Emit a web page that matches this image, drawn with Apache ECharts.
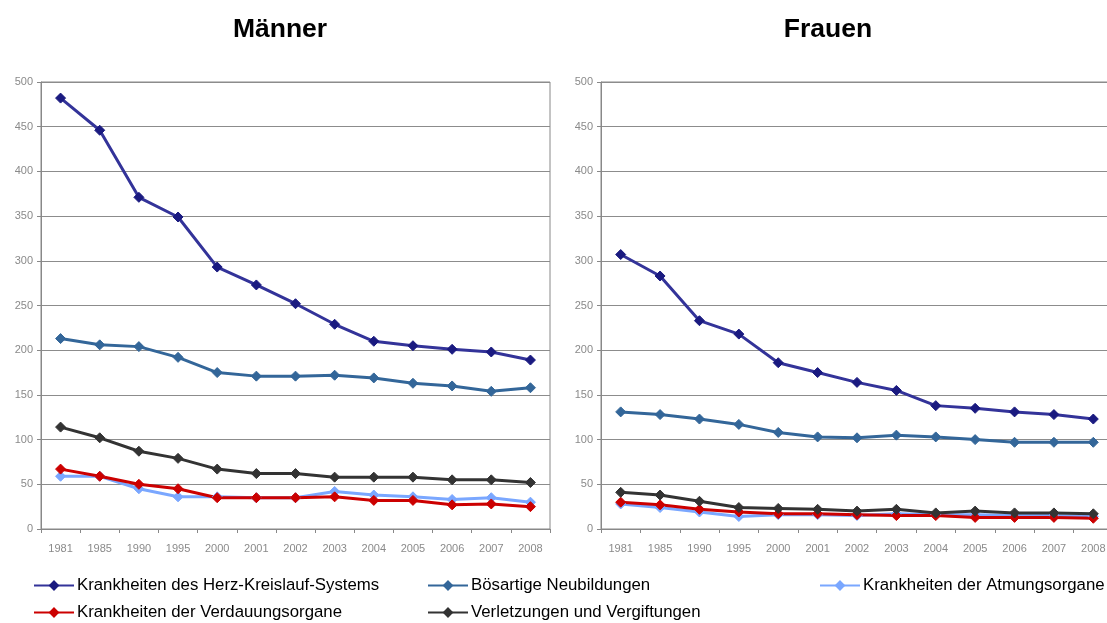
<!DOCTYPE html>
<html>
<head>
<meta charset="utf-8">
<script src="https://cdn.jsdelivr.net/npm/echarts@6/dist/echarts.min.js"></script>
<style>
  html, body { margin: 0; padding: 0; background: #fff; }
  #chart { width: 1107px; height: 623px; }
</style>
</head>
<body>
<div id="chart"></div>
<script>
const years = ['1981', '1985', '1990', '1995', '2000', '2001', '2002', '2003', '2004', '2005', '2006', '2007', '2008'];
const yTicks = [0, 50, 100, 150, 200, 250, 300, 350, 400, 450, 500];

const seriesNames = [
    'Krankheiten des Herz-Kreislauf-Systems',
    'Bösartige Neubildungen',
    'Krankheiten der Atmungsorgane',
    'Krankheiten der Verdauungsorgane',
    'Verletzungen und Vergiftungen',
];

// Männer
const menHerz = [482, 446, 371, 349, 293, 273, 252, 229, 210, 205, 201, 198, 189];
const menKrebs = [213, 206, 204, 192, 175, 171, 171, 172, 169, 163, 160, 154, 158];
const menAtmung = [59, 59, 45, 36, 36, 35, 35, 42, 38, 36, 33, 35, 30];
const menVerdauung = [67, 59, 50, 45, 35, 35, 35, 36, 32, 32, 27, 28, 25];
const menVerletzung = [114, 102, 87, 79, 67, 62, 62, 58, 58, 58, 55, 55, 52];

// Frauen
const womenHerz = [307, 283, 233, 218, 186, 175, 164, 155, 138, 135, 131, 128, 123];
const womenKrebs = [131, 128, 123, 117, 108, 103, 102, 105, 103, 100, 97, 97, 97];
const womenAtmung = [28, 24, 19, 14, 16, 16, 15, 17, 16, 16, 15, 15, 14];
const womenVerdauung = [30, 27, 22, 19, 17, 17, 16, 15, 15, 13, 13, 13, 12];
const womenVerletzung = [41, 38, 31, 24, 23, 22, 20, 22, 18, 20, 18, 18, 17];

const lineColors = ['#333399', '#336699', '#7aa7ff', '#cc0000', '#333333'];
const markerColors = ['#1a1a80', '#336699', '#7aa7ff', '#cc0000', '#333333'];

const chart = echarts.init(document.getElementById('chart'));

const grids = [
    { left: 41, top: 82, width: 509, height: 447 },
    { left: 601, top: 82, width: 512, height: 447 },
];

function makeX(gridIndex) {
    return {
        type: 'category',
        gridIndex: gridIndex,
        data: years,
        boundaryGap: true,
        axisLine: { lineStyle: { color: '#888', width: 1 } },
        axisTick: { show: true, length: 4, lineStyle: { color: '#888' } },
        axisLabel: {
            color: '#8a8a8a',
            fontFamily: 'Liberation Sans, Arial, sans-serif',
            fontSize: 11,
            margin: 14,
            interval: 0,
        },
    };
}

function makeY(gridIndex) {
    return {
        type: 'value',
        gridIndex: gridIndex,
        min: yTicks[0],
        max: yTicks[yTicks.length - 1],
        interval: 50,
        axisLine: { show: true, lineStyle: { color: '#888', width: 1 } },
        axisTick: { show: true, length: 4, lineStyle: { color: '#888' } },
        axisLabel: {
            color: '#8a8a8a',
            fontFamily: 'Liberation Sans, Arial, sans-serif',
            fontSize: 11,
            margin: 8,
        },
        splitLine: { lineStyle: { color: '#8c8c8c', width: 1 } },
    };
}

function makeSeries(name, data, idx, gridIndex) {
    return {
        name: name,
        type: 'line',
        xAxisIndex: gridIndex,
        yAxisIndex: gridIndex,
        data: data,
        symbol: 'diamond',
        symbolSize: 10,
        showAllSymbol: true,
        lineStyle: { color: lineColors[idx], width: 3 },
        itemStyle: {
            color: markerColors[idx],
            borderColor: markerColors[idx],
            borderWidth: 1,
        },
        emphasis: { disabled: true },
        animation: false,
    };
}

const menData = [menHerz, menKrebs, menAtmung, menVerdauung, menVerletzung];
const womenData = [womenHerz, womenKrebs, womenAtmung, womenVerdauung, womenVerletzung];

const series = [];
menData.forEach((d, i) => series.push(makeSeries(seriesNames[i], d, i, 0)));
womenData.forEach((d, i) => series.push(makeSeries(seriesNames[i], d, i, 1)));

// legend placed in three columns, two rows
const legendPos = [
    { left: 33, top: 577 },
    { left: 427, top: 577 },
    { left: 819, top: 577 },
    { left: 33, top: 604 },
    { left: 427, top: 604 },
];

const legends = seriesNames.map((name, i) => ({
    data: [name],
    left: legendPos[i].left,
    top: legendPos[i].top,
    padding: 0,
    itemWidth: 40,
    itemHeight: 10,
    itemGap: 4,
    selectedMode: false,
    textStyle: {
        color: '#000',
        fontFamily: 'Liberation Sans, Arial, sans-serif',
        fontSize: 16.8,
        padding: [0, 0, 0, -2],
    },
}));

const titleStyle = { fontFamily: 'Liberation Sans, Arial, sans-serif', fontSize: 26.5, fontWeight: 'bold', color: '#000' };

const option = {
    backgroundColor: '#fff',
    animation: false,
    title: [
        { text: 'Männer', left: 275, top: 11, textAlign: 'center', textStyle: titleStyle },
        { text: 'Frauen', left: 823, top: 11, textAlign: 'center', textStyle: titleStyle },
    ],
    legend: legends,
    grid: grids.map(g => Object.assign({
        show: true,
        borderColor: '#888',
        borderWidth: 1,
        backgroundColor: 'transparent',
        outerBoundsMode: 'none',
        containLabel: false,
    }, g)),
    xAxis: [makeX(0), makeX(1)],
    yAxis: [makeY(0), makeY(1)],
    series: series,
};

chart.setOption(option);
</script>
</body>
</html>
